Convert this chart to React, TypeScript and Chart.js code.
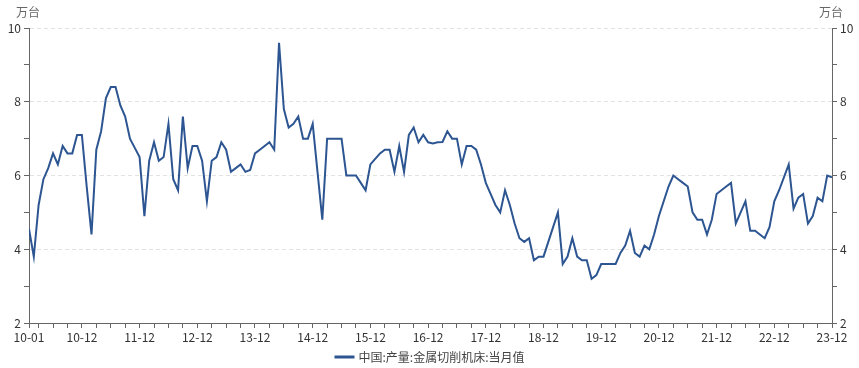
import React, { useEffect, useRef } from 'react';
import { Chart, registerables } from 'chart.js';

Chart.register(...registerables);

// Categories: months 2010-01 .. 2023-12
const monthLabels: string[] = [];
for (let y = 2010; y <= 2023; y++) {
  for (let m = 1; m <= 12; m++) {
    monthLabels.push(`${String(y % 100).padStart(2, '0')}-${String(m).padStart(2, '0')}`);
  }
}

// 中国:产量:金属切削机床:当月值 (万台)
const values2010 = [4.55, 3.8, 5.2, 5.9, 6.2, 6.6, 6.3, 6.8, 6.6, 6.6, 7.1, 7.1];
const values2011 = [5.7, 4.4, 6.7, 7.2, 8.1, 8.4, 8.4, 7.9, 7.6, 7.0, 6.75, 6.5];
const values2012 = [4.9, 6.4, 6.9, 6.4, 6.5, 7.4, 5.9, 5.6, 7.6, 6.2, 6.8, 6.8];
const values2013 = [6.4, 5.3, 6.4, 6.5, 6.9, 6.7, 6.1, 6.2, 6.3, 6.1, 6.15, 6.6];
const values2014 = [6.7, 6.8, 6.9, 6.7, 9.6, 7.8, 7.3, 7.4, 7.6, 7.0, 7.0, 7.4];
const values2015 = [6.1, 4.8, 7.0, 7.0, 7.0, 7.0, 6.0, 6.0, 6.0, 5.8, 5.6, 6.3];
const values2016 = [6.45, 6.6, 6.7, 6.7, 6.1, 6.8, 6.1, 7.1, 7.3, 6.9, 7.1, 6.9];
const values2017 = [6.87, 6.9, 6.91, 7.2, 7.0, 7.0, 6.3, 6.8, 6.8, 6.7, 6.3, 5.8];
const values2018 = [5.5, 5.2, 5.0, 5.6, 5.2, 4.7, 4.3, 4.2, 4.3, 3.7, 3.8, 3.8];
const values2019 = [4.2, 4.6, 5.0, 3.6, 3.8, 4.3, 3.8, 3.7, 3.7, 3.2, 3.3, 3.6];
const values2020 = [3.6, 3.6, 3.6, 3.9, 4.1, 4.5, 3.9, 3.8, 4.1, 4.0, 4.4, 4.9];
const values2021 = [5.3, 5.7, 6.0, 5.9, 5.8, 5.7, 5.0, 4.8, 4.8, 4.4, 4.8, 5.5];
const values2022 = [5.6, 5.7, 5.8, 4.7, 5.0, 5.3, 4.5, 4.5, 4.4, 4.3, 4.6, 5.3];
const values2023 = [5.6, 5.95, 6.3, 5.1, 5.4, 5.5, 4.7, 4.9, 5.4, 5.3, 6.0, 5.95];

const values: number[] = [
  ...values2010, ...values2011, ...values2012, ...values2013, ...values2014,
  ...values2015, ...values2016, ...values2017, ...values2018, ...values2019,
  ...values2020, ...values2021, ...values2022, ...values2023,
];

const seriesName = '中国:产量:金属切削机床:当月值';
const unitLabel = '万台';
const yMin = 2;
const yMax = 10;

const LINE_COLOR = '#2c5591';
const FONT = '"Noto Sans CJK SC", "Noto Sans", sans-serif';

export default function App() {
  const canvasRef = useRef<HTMLCanvasElement | null>(null);

  useEffect(() => {
    document.body.style.margin = '0';
    const canvas = canvasRef.current;
    if (!canvas) return;

    const overlay = {
      id: 'overlay',
      afterDraw(chart: any) {
        const ctx = chart.ctx;
        const { left, right } = chart.chartArea;
        ctx.save();
        ctx.font = `12px ${FONT}`;
        ctx.fillStyle = '#666';
        ctx.textAlign = 'center';
        ctx.textBaseline = 'middle';
        ctx.fillText(unitLabel, left - 1, 12);
        ctx.fillText(unitLabel, right - 1, 12);

        // legend
        const tw = ctx.measureText(seriesName).width;
        const lineW = 20;
        const gap = 4;
        const total = lineW + gap + tw;
        const x0 = chart.width / 2 - total / 2;
        const ly = 357;
        ctx.strokeStyle = LINE_COLOR;
        ctx.lineWidth = 3;
        ctx.beginPath();
        ctx.moveTo(x0, ly);
        ctx.lineTo(x0 + lineW, ly);
        ctx.stroke();
        ctx.fillStyle = '#444';
        ctx.textAlign = 'left';
        ctx.fillText(seriesName, x0 + lineW + gap, ly);
        ctx.restore();
      },
    };

    const yTickCb = (v: any) => (Number(v) % 2 === 0 ? String(v) : '');

    const chart = new Chart(canvas, {
      type: 'line',
      data: {
        datasets: [
          {
            label: seriesName,
            data: values.map((v, i) => ({ x: i, y: v })),
            borderColor: LINE_COLOR,
            backgroundColor: LINE_COLOR,
            borderWidth: 2,
            pointRadius: 0,
            tension: 0,
            yAxisID: 'y',
          },
        ],
      },
      options: {
        responsive: false,
        animation: false,
        layout: { padding: { top: 28, left: 0, right: 0, bottom: 0 } },
        plugins: {
          legend: { display: false },
          tooltip: { enabled: false },
        },
        scales: {
          x: {
            type: 'linear',
            min: 0,
            max: monthLabels.length - 1,
            afterBuildTicks: (scale: any) => {
              scale.ticks = monthLabels
                .map((_, i) => i)
                .filter((i) => i === 0 || i % 3 === 2)
                .map((i) => ({ value: i }));
            },
            afterFit: (scale: any) => {
              scale.height = 45;
            },
            ticks: {
              autoSkip: false,
              maxRotation: 0,
              minRotation: 0,
              color: '#333',
              font: { size: 12, family: FONT },
              padding: 2,
              callback: (v: any) => {
                const i = Number(v);
                return i === 0 || i % 12 === 11 ? monthLabels[i] : '';
              },
            },
            grid: {
              drawOnChartArea: false,
              drawTicks: true,
              tickLength: 5,
              tickColor: '#666',
            },
            border: { display: true, color: '#666', width: 1 },
          },
          y: {
            type: 'linear',
            position: 'left',
            min: yMin,
            max: yMax,
            afterFit: (scale: any) => {
              scale.width = 29;
            },
            ticks: {
              stepSize: 1,
              color: '#333',
              font: { size: 12, family: FONT },
              padding: 3,
              callback: yTickCb,
            },
            grid: {
              drawOnChartArea: true,
              color: (ctx: any) =>
                ctx.tick && ctx.tick.value % 2 === 0 && ctx.tick.value > yMin ? '#e2e2e2' : 'rgba(0,0,0,0)',
              tickColor: '#666',
              tickLength: 5,
              lineWidth: 1,
            },
            border: { display: true, color: '#666', width: 1, dash: [4, 3] },
          },
          y2: {
            type: 'linear',
            position: 'right',
            min: yMin,
            max: yMax,
            afterFit: (scale: any) => {
              scale.width = 27;
            },
            ticks: {
              stepSize: 1,
              color: '#333',
              font: { size: 12, family: FONT },
              padding: 3,
              callback: yTickCb,
            },
            grid: {
              drawOnChartArea: false,
              tickColor: '#666',
              tickLength: 5,
            },
            border: { display: true, color: '#666', width: 1 },
          },
        },
      },
      plugins: [overlay],
    } as any);

    return () => {
      chart.destroy();
    };
  }, []);

  return (
    <div style={{ width: 859, height: 368 }}>
      <canvas ref={canvasRef} width={859} height={368} style={{ display: 'block' }} />
    </div>
  );
}
